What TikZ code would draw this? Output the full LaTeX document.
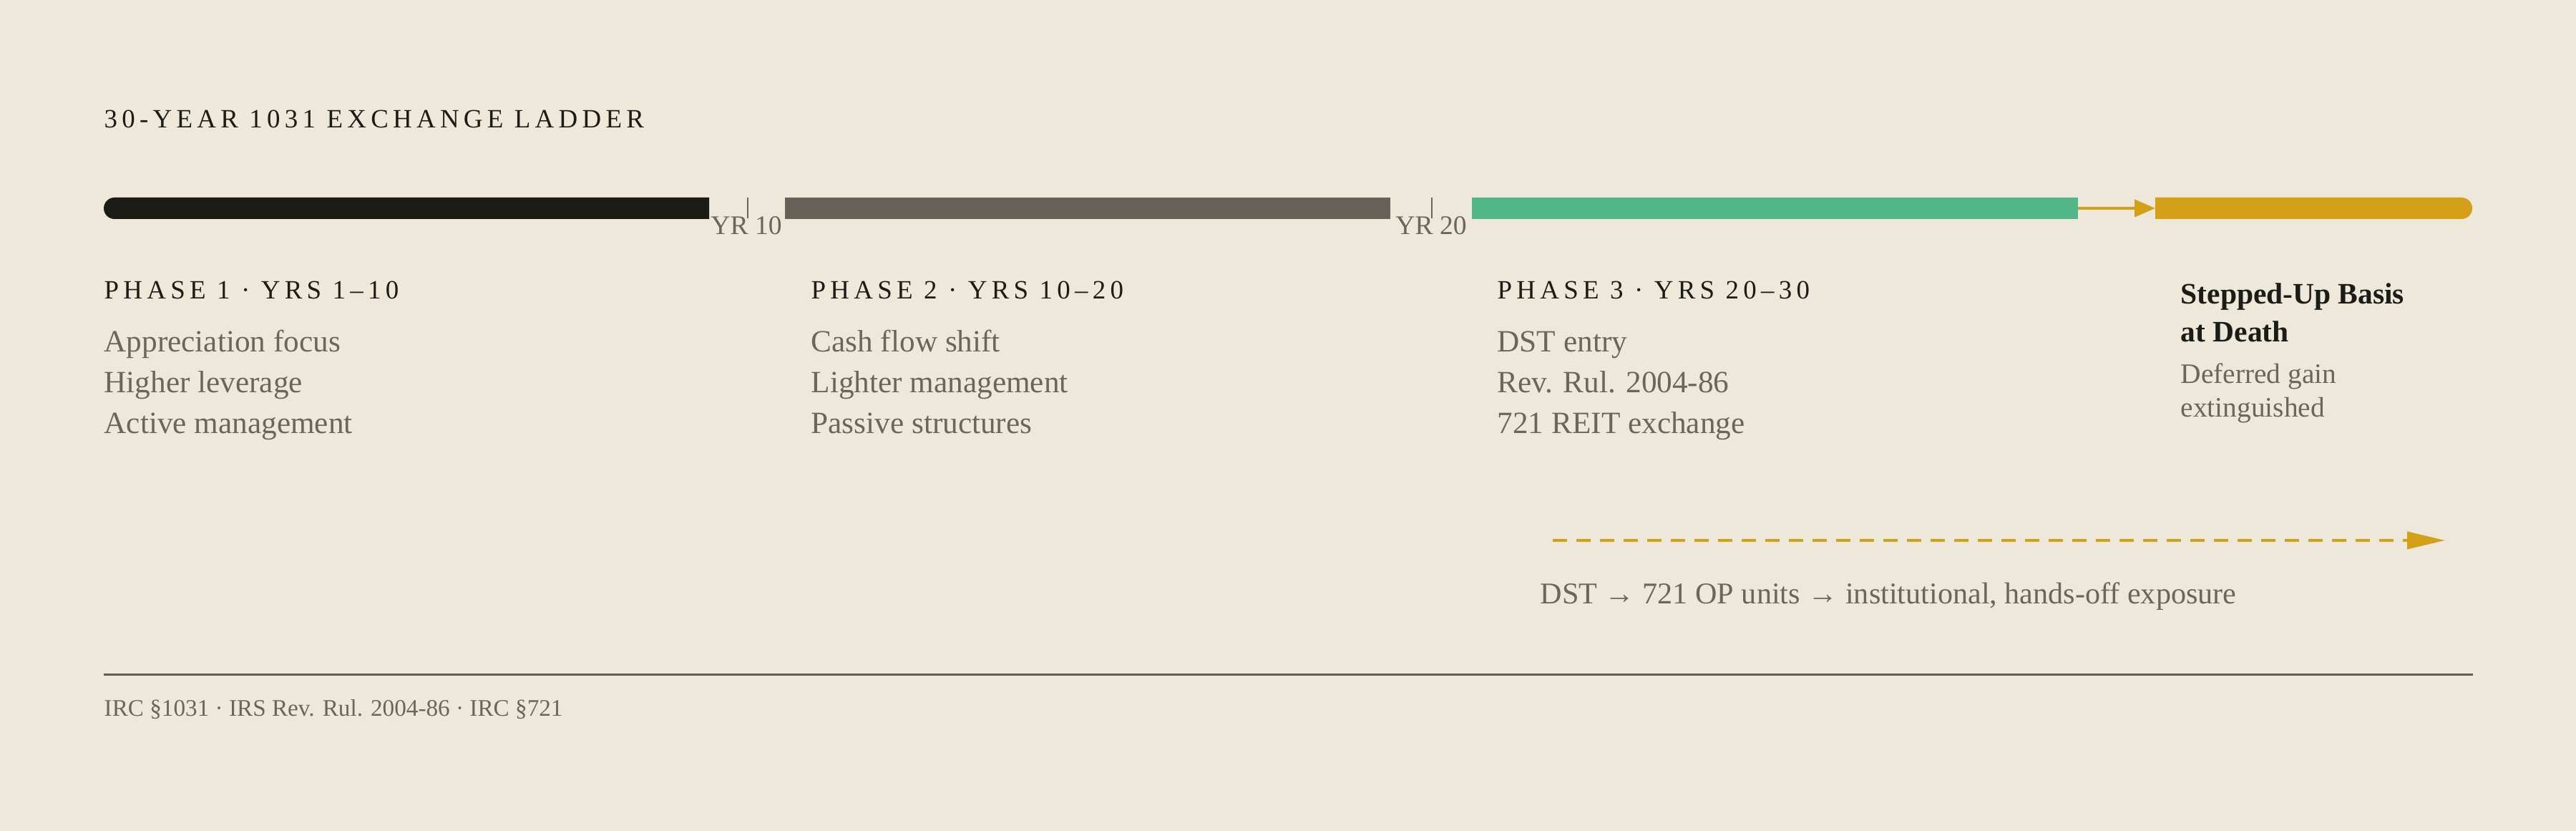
\documentclass[tikz,border=0pt]{standalone}
\usepackage{fontspec}
\setmainfont{Liberation Serif}
\newfontfamily\capsfont[LetterSpace=17]{Liberation Serif}
\usepackage{tikz}
\usetikzlibrary{arrows.meta,shapes.misc}
\definecolor{paper}{HTML}{EDE8DA}
\definecolor{ink}{HTML}{1C1C17}
\definecolor{slate}{HTML}{666259}
\definecolor{mint}{HTML}{52B788}
\definecolor{gold}{HTML}{D4A017}
\definecolor{muted}{HTML}{6B6659}
\definecolor{rule}{HTML}{5F5E55}

\begin{document}
\begin{tikzpicture}[
  bar/.style={inner sep=0pt, outer sep=0pt, minimum height=0.3cm},
  caps/.style={anchor=base west, inner sep=0pt, text=ink, font=\capsfont\fontsize{10.5}{12}\selectfont},
  body/.style={anchor=base west, inner sep=0pt, text=muted, font=\fontsize{12.3}{15}\selectfont},
  note/.style={anchor=base west, inner sep=0pt, text=muted, font=\fontsize{11.2}{13}\selectfont},
  basis/.style={anchor=base west, inner sep=0pt, text=ink, font=\bfseries\fontsize{11.8}{14}\selectfont},
  yrlabel/.style={anchor=base, inner sep=0pt, text=muted, font=\fontsize{10.7}{12}\selectfont},
  tick/.style={draw=muted, line width=0.02cm}
]
\fill[paper] (0,0) rectangle (36,11.61);

\node[caps, font=\capsfont\fontsize{10.5}{12}\selectfont] (title) at (1.45,9.82) {30-YEAR 1031 EXCHANGE LADDER};

\node[bar, rounded rectangle, rounded rectangle east arc=none, fill=ink, minimum width=8.46cm] (bar1) at (5.68,8.70) {};
\node[bar, fill=slate, minimum width=8.46cm] (bar2) at (15.20,8.70) {};
\node[bar, fill=mint, minimum width=8.47cm] (bar3) at (24.805,8.70) {};
\node[bar, rounded rectangle, rounded rectangle west arc=none, fill=gold, minimum width=4.43cm] (bar4) at (32.335,8.70) {};
\draw[gold, line width=0.04cm, -{Triangle[length=0.29cm,width=0.24cm]}] (bar3.east) -- (bar4.west);

\draw[tick] (10.45,8.85) -- (10.45,8.56);
\draw[tick] (20.01,8.85) -- (20.01,8.56);
\node[yrlabel] (yr10) at (10.43,8.33) {YR 10};
\node[yrlabel] (yr20) at (20.00,8.33) {YR 20};

\node[caps] (phase1) at (1.45,7.43) {PHASE 1 · YRS 1–10};
\node[body] (p1a) at (1.45,6.69) {Appreciation focus};
\node[body] (p1b) at (1.45,6.12) {Higher leverage};
\node[body] (p1c) at (1.45,5.55) {Active management};

\node[caps] (phase2) at (11.33,7.43) {PHASE 2 · YRS 10–20};
\node[body] (p2a) at (11.33,6.69) {Cash flow shift};
\node[body] (p2b) at (11.33,6.12) {Lighter management};
\node[body] (p2c) at (11.33,5.55) {Passive structures};

\node[caps] (phase3) at (20.92,7.43) {PHASE 3 · YRS 20–30};
\node[body] (p3a) at (20.92,6.69) {DST entry};
\node[body] (p3b) at (20.92,6.12) {Rev. Rul. 2004-86};
\node[body] (p3c) at (20.92,5.55) {721 REIT exchange};

\node[basis] (basis1) at (30.47,7.36) {Stepped-Up Basis};
\node[basis] (basis2) at (30.47,6.83) {at Death};
\node[note] (gain1) at (30.47,6.25) {Deferred gain};
\node[note] (gain2) at (30.47,5.78) {extinguished};

\coordinate (drift0) at (21.70,4.06);
\coordinate (drift1) at (34.17,4.06);
\draw[gold, line width=0.04cm, dash pattern=on 0.2cm off 0.13cm, -{Triangle[length=0.53cm,width=0.24cm]}] (drift0) -- (drift1);
\node[body, font=\fontsize{12.0}{15}\selectfont] (route) at (21.52,3.17) {DST → 721 OP units → institutional, hands-off exposure};

\draw[rule, line width=0.03cm] (1.45,2.18) -- (34.56,2.18);
\node[anchor=base west, inner sep=0pt, text=muted, font=\fontsize{9.45}{11}\selectfont] (refs) at (1.45,1.60) {IRC §1031 · IRS Rev. Rul. 2004-86 · IRC §721};

\end{tikzpicture}
\end{document}
